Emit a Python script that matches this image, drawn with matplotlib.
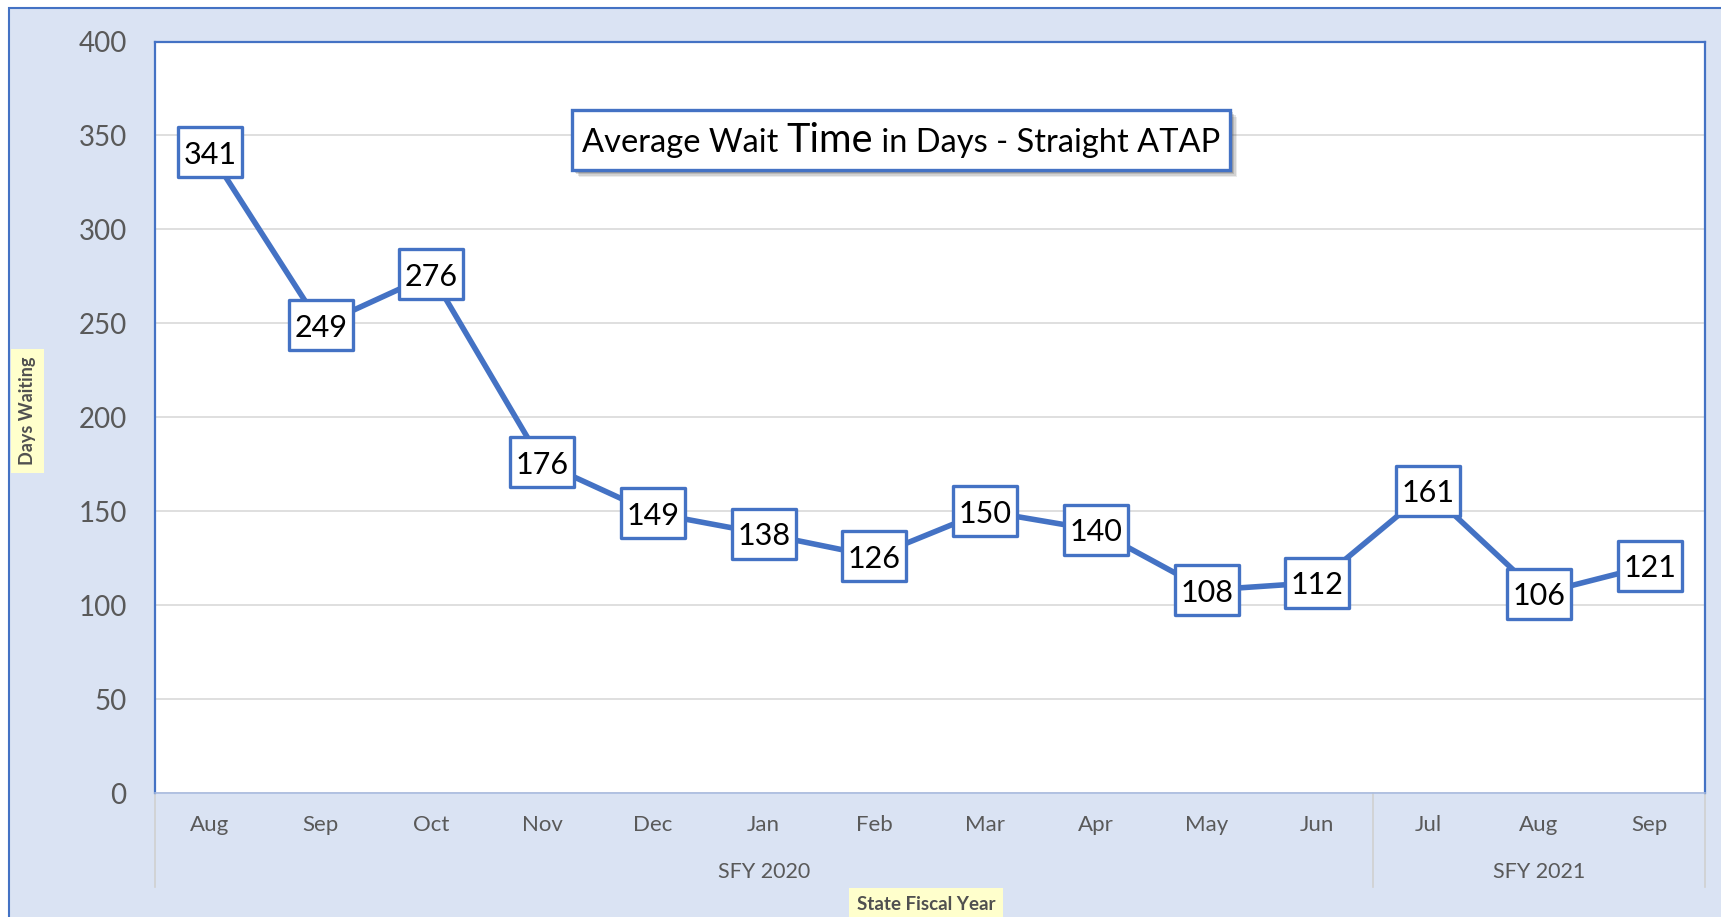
import matplotlib
matplotlib.use("Agg")
import matplotlib.pyplot as plt
from matplotlib.patches import Rectangle
from matplotlib.path import Path
from matplotlib.offsetbox import TextArea, HPacker, AnnotationBbox
import matplotlib.transforms as mtransforms

# ---- data ----
months = ["Aug", "Sep", "Oct", "Nov", "Dec", "Jan", "Feb", "Mar", "Apr", "May", "Jun", "Jul", "Aug", "Sep"]
values = [341, 249, 276, 176, 149, 138, 126, 150, 140, 108, 112, 161, 106, 121]
groups = ["SFY 2020", "SFY 2021"]
group_sizes = [11, 3]
y_ticks = [0, 50, 100, 150, 200, 250, 300, 350, 400]

BLUE = "#4472C4"
BG = "#DAE3F3"
GRAY = "#595959"
FONT = "Lato"

W, H = 1721, 917
fig = plt.figure(figsize=(W / 100, H / 100), dpi=100)
fig.patch.set_facecolor("white")

def fx(px):
    return px / W

def fy(py):
    return 1 - py / H

# outer chart area
fig.patches.append(Rectangle((fx(9), fy(960)), (1800 - 9) / W, (960 - 8) / H,
                             transform=fig.transFigure, facecolor=BG, edgecolor=BLUE,
                             linewidth=1.5, zorder=-5))

left, top, right, bottom = 154.5, 41.5, 1705, 793
ax = fig.add_axes([fx(left), fy(bottom), fx(right - left), (bottom - top) / H])
ax.set_zorder(1)
ax.set_facecolor("white")

x = list(range(len(values)))
ax.plot(x, values, color=BLUE, linewidth=4.0, zorder=3, solid_joinstyle="round")

# rectangular label boxes (wider than tall)
bw, bh = 32, 25
box = Path([(-bw, -bh), (bw, -bh), (bw, bh), (-bw, bh), (-bw, -bh)],
           [Path.MOVETO, Path.LINETO, Path.LINETO, Path.LINETO, Path.CLOSEPOLY])
ax.plot(x, values, linestyle="none", marker=box, markersize=46.5, markerfacecolor="white",
        markeredgecolor=BLUE, markeredgewidth=2.4, zorder=4)
for xi, v in zip(x, values):
    ax.text(xi, v, str(v), ha="center", va="center_baseline", fontsize=22, family=FONT,
            color="black", zorder=5)

ax.set_xlim(-0.5, len(values) - 0.5)
ax.set_ylim(0, 400)
ax.set_yticks(y_ticks)
ax.set_yticklabels([str(t) for t in y_ticks], fontsize=20, family=FONT, color=GRAY)
ax.tick_params(axis="y", length=0, pad=20)
ax.set_xticks(x)
ax.set_xticklabels(months, fontsize=16, family=FONT, color=GRAY)
ax.tick_params(axis="x", length=0, pad=16)
ax.grid(axis="y", color="#D9D9D9", linewidth=1.2, zorder=0)
ax.set_axisbelow(True)

for s in ["left", "top", "right"]:
    ax.spines[s].set_color(BLUE)
    ax.spines[s].set_linewidth(1.6)
ax.spines["bottom"].set_color("#A9BCE0")
ax.spines["bottom"].set_linewidth(1.2)

# multi-level category axis
trans = mtransforms.blended_transform_factory(ax.transData, ax.transAxes)
ah = bottom - top
sep_bottom = -(887 - bottom) / ah
grp_y = -(872 - bottom) / ah
start = -0.5
ax.plot([start, start], [0, sep_bottom], transform=trans, color="#D0D0D0", lw=1.2, clip_on=False)
for g, n in zip(groups, group_sizes):
    end = start + n
    ax.plot([end, end], [0, sep_bottom], transform=trans, color="#D0D0D0", lw=1.2, clip_on=False)
    ax.text((start + end) / 2, grp_y, g, transform=trans, ha="center", va="center",
            fontsize=15.5, family=FONT, color=GRAY)
    start = end

# axis titles
fig.text(fx(27.5), fy(411), "Days Waiting", rotation=90, ha="center", va="center",
         fontsize=13, fontweight="bold", family=FONT, color="#505050", zorder=8,
         bbox=dict(boxstyle="square,pad=0.45", facecolor="#FFFFCC", edgecolor="none"))
fig.text(fx(926), fy(904), "State Fiscal Year", ha="center", va="center",
         fontsize=13.5, fontweight="bold", family=FONT, color="#505050", zorder=8,
         bbox=dict(boxstyle="square,pad=0.4", facecolor="#FFFFCC", edgecolor="none"))

# title box with shadow
tx0, ty0, tx1, ty1 = 572, 110, 1230, 170
for i, a in enumerate([0.10, 0.14, 0.18, 0.22]):
    off = 7 - i * 1.5
    fig.patches.append(Rectangle((fx(tx0 + off), fy(ty1 + off)), fx(tx1 - tx0), (ty1 - ty0) / H,
                                 transform=fig.transFigure, facecolor="#404040", alpha=a,
                                 edgecolor="none", zorder=5))
fig.patches.append(Rectangle((fx(tx0), fy(ty1)), fx(tx1 - tx0), (ty1 - ty0) / H,
                             transform=fig.transFigure, facecolor="white", edgecolor=BLUE,
                             linewidth=2.4, zorder=6))
parts = [TextArea("Average Wait ", textprops=dict(fontsize=23.5, family=FONT, color="black")),
         TextArea("Time", textprops=dict(fontsize=28.5, family=FONT, color="black")),
         TextArea(" in Days - Straight ATAP", textprops=dict(fontsize=23.5, family=FONT, color="black"))]
pack = HPacker(children=parts, align="baseline", pad=0, sep=0)
ab = AnnotationBbox(pack, (fx((tx0 + tx1) / 2), fy((ty0 + ty1) / 2 + 1)), xycoords="figure fraction",
                    frameon=False, box_alignment=(0.5, 0.5), zorder=7)
fig.add_artist(ab)

fig.savefig("out.png", dpi=100)
